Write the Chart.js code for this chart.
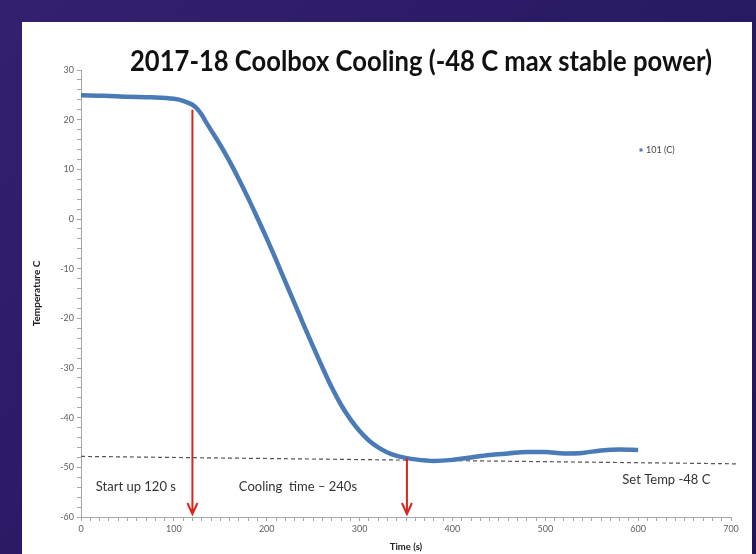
<!DOCTYPE html>
<html>
<head>
<meta charset="utf-8">
<title>2017-18 Coolbox Cooling</title>
<script src="https://cdn.jsdelivr.net/npm/chart.js@4.4.0/dist/chart.umd.min.js"></script>
<style>
  html, body { margin: 0; padding: 0; }
  body {
    width: 756px; height: 554px; overflow: hidden; position: relative;
    background: linear-gradient(135deg, #33216f 0%, #2b1a66 45%, #22135c 100%);
  }
  #panel { position: absolute; left: 22px; top: 22px; width: 730px; height: 532px; background: #fff; }
  #title {
    position: absolute; left: 130px; top: 46px; white-space: nowrap;
    font: bold 28px Lato, 'Open Sans', sans-serif; line-height: 28px; color: #111;
    transform-origin: 0 0;
  }
  #chart { position: absolute; left: 0; top: 0; }
</style>
</head>
<body>
<div id="panel"></div>
<canvas id="chart" width="756" height="554"></canvas>
<div id="title">2017-18 Coolbox Cooling (-48 C max stable power)</div>
<script>
// Coolbox temperature trace (time in s, temperature in C)
const times = [0, 25, 50, 75, 100, 110, 120, 125, 130, 135, 140, 150, 160, 170, 180, 190, 200, 210, 220, 230,
               240, 250, 260, 270, 280, 290, 300, 310, 320, 330, 340, 350, 360, 380, 400, 420, 440, 460,
               480, 500, 520, 540, 560, 580, 600];
const temps = [24.9, 24.8, 24.6, 24.5, 24.2, 23.8, 23.0, 22.2, 21.0, 19.4, 17.9, 14.9, 11.6, 8.0, 4.2, 0.2, -3.9, -8.2, -12.6, -17.0,
               -21.4, -25.7, -29.9, -33.9, -37.4, -40.3, -42.7, -44.6, -46.0, -47.0, -47.7, -48.1, -48.4, -48.7, -48.5, -48.0, -47.5, -47.2,
               -46.9, -46.9, -47.2, -47.1, -46.6, -46.4, -46.5];

// Set temperature reference (dashed)
const setTempTimes = [0, 708];
const setTempValues = [-47.8, -49.3];

// Red arrows
const arrowTimes = [120, 351];
const arrowTops = [22, -48.1];
const arrowTips = [-59.4, -59.4];

// Notes on the plot
const noteTexts = ['Start up 120 s', 'Cooling  time \u2013 240s', 'Set Temp -48 C'];
const noteTimes = [16, 170, 583];
const noteTemps = [-53.9, -53.9, -52.5];

// Labelled ticks
const xLabelTicks = [0, 100, 200, 300, 400, 500, 600, 700];
const yLabelTicks = [30, 20, 10, 0, -10, -20, -30, -40, -50, -60];

// fit the title width like the original slide
const titleEl = document.getElementById('title');
const titleW = titleEl.getBoundingClientRect().width;
titleEl.style.transform = 'scale(' + (582 / titleW) + ', 1)';

const notesPlugin = {
    id: 'notes',
    afterDatasetsDraw(chart) {
        const ctx = chart.ctx;
        const x = chart.scales.x;
        const y = chart.scales.y;
        ctx.save();

        // arrows
        ctx.strokeStyle = '#d8261e';
        ctx.lineWidth = 2;
        arrowTimes.forEach((t, i) => {
            const px = x.getPixelForValue(t);
            const top = y.getPixelForValue(arrowTops[i]);
            const tip = y.getPixelForValue(arrowTips[i]);
            ctx.beginPath();
            ctx.moveTo(px, top);
            ctx.lineTo(px, tip);
            ctx.moveTo(px - 5, tip - 11);
            ctx.lineTo(px, tip);
            ctx.lineTo(px + 5, tip - 11);
            ctx.stroke();
        });

        // text notes
        ctx.fillStyle = '#333';
        ctx.font = '13px Lato, sans-serif';
        ctx.textBaseline = 'middle';
        ctx.textAlign = 'left';
        noteTexts.forEach((txt, i) => {
            ctx.fillText(txt, x.getPixelForValue(noteTimes[i]), y.getPixelForValue(noteTemps[i]));
        });

        // legend
        const ds = chart.data.datasets[0];
        const lx = chart.chartArea.right - 90;
        const ly = chart.chartArea.top + 80;
        ctx.fillStyle = ds.borderColor;
        ctx.fillRect(lx - 1.5, ly - 1.5, 3, 3);
        ctx.fillStyle = '#444';
        ctx.font = '9px Lato, sans-serif';
        ctx.fillText(ds.label, lx + 5, ly);

        ctx.restore();
    }
};

new Chart(document.getElementById('chart'), {
    type: 'line',
    data: {
        datasets: [
            {
                label: '101 (C)',
                data: times.map((t, i) => ({ x: t, y: temps[i] })),
                borderColor: '#4a7bb7',
                borderWidth: 4.5,
                pointRadius: 0,
                cubicInterpolationMode: 'monotone',
                fill: false
            },
            {
                label: 'Set Temp',
                data: setTempTimes.map((t, i) => ({ x: t, y: setTempValues[i] })),
                borderColor: '#555',
                borderWidth: 1.2,
                borderDash: [4, 3],
                pointRadius: 0,
                clip: false,
                fill: false
            }
        ]
    },
    options: {
        responsive: false,
        animation: false,
        layout: { padding: { left: 22, top: 70, right: 25, bottom: 1 } },
        plugins: {
            legend: { display: false },
            tooltip: { enabled: false }
        },
        scales: {
            x: {
                type: 'linear',
                min: 0,
                max: 700,
                afterFit: s => { s.height = 36; },
                border: { color: '#a6a6a6', width: 1 },
                grid: { drawOnChartArea: false, tickLength: 4, tickColor: '#a6a6a6' },
                ticks: {
                    stepSize: 10,
                    autoSkip: false,
                    maxRotation: 0,
                    padding: 3,
                    color: '#606060',
                    font: { family: 'Lato', size: 9 },
                    callback: v => xLabelTicks.includes(v) ? String(v) : ''
                },
                title: {
                    display: true,
                    text: 'Time (s)',
                    color: '#222',
                    font: { family: 'Lato', size: 9.5, weight: 'bold' },
                    padding: { top: 0, bottom: 0 }
                }
            },
            y: {
                min: -60,
                max: 30,
                afterFit: s => { s.width = 59; },
                border: { color: '#a6a6a6', width: 1 },
                grid: { drawOnChartArea: false, tickLength: 4, tickColor: '#a6a6a6' },
                ticks: {
                    stepSize: 2,
                    autoSkip: false,
                    padding: 3,
                    color: '#606060',
                    font: { family: 'Lato', size: 9 },
                    callback: v => yLabelTicks.includes(v) ? String(v) : ''
                },
                title: {
                    display: true,
                    text: 'Temperature C',
                    color: '#222',
                    font: { family: 'Lato', size: 10, weight: 'bold' },
                    padding: { top: 9, bottom: 0 }
                }
            }
        }
    },
    plugins: [notesPlugin]
});
</script>
</body>
</html>
